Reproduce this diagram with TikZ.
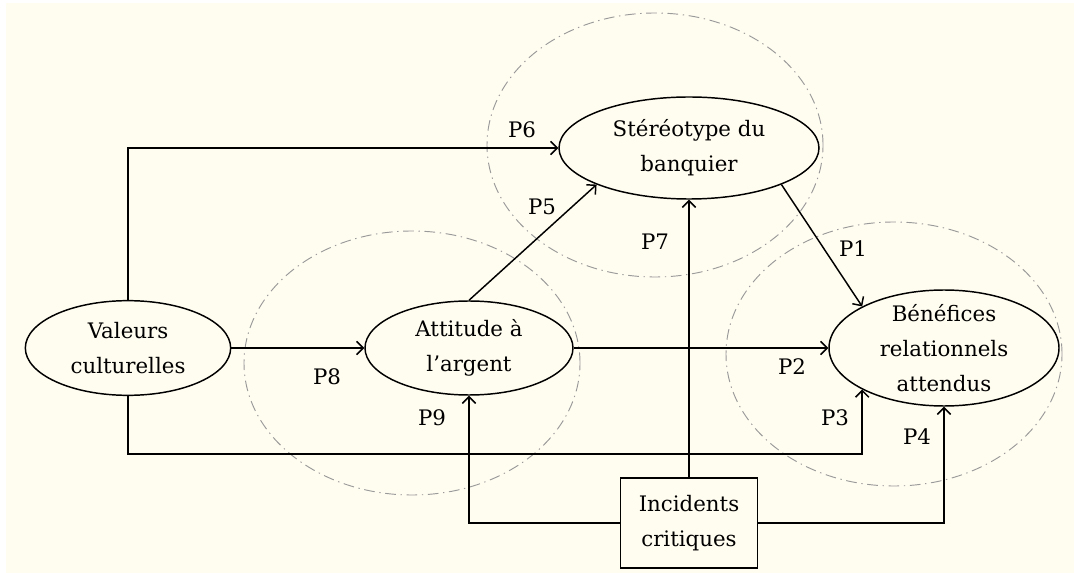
\documentclass[tikz,border=0pt]{standalone}
\usepackage{fontspec}
\setmainfont{DejaVu Serif}
\usepackage{tikz}
\usetikzlibrary{arrows.meta, positioning, shapes.geometric}
\definecolor{paper}{RGB}{255,253,240}

\begin{document}
\begin{tikzpicture}[
        x=0.75pt, y=-0.75pt,
        font=\fontsize{16}{26}\selectfont,
        concept/.style={ellipse, draw=black, line width=1.1pt, align=center, inner sep=0pt},
        event/.style={rectangle, draw=black, line width=1.1pt, align=center, minimum width=102.75pt, minimum height=67.5pt},
        zone/.style={draw=gray!80, line width=0.7pt, dash pattern=on 8pt off 3.5pt on 1pt off 3.5pt},
        lab/.style={inner sep=0pt},
        arrow/.style={-{Straight Barb[length=5pt, width=10pt]}, line width=1.1pt}
    ]
        \fill[white] (0,0) rectangle (1074,573);
        \fill[paper] (6,3) rectangle (1074,573);
        \useasboundingbox (0,0) rectangle (1074,573);

        % zones
        \draw[zone] (655,145) ellipse [x radius=126pt, y radius=99pt];
        \draw[zone] (412,363) ellipse [x radius=126pt, y radius=99pt];
        \draw[zone] (894,354) ellipse [x radius=126pt, y radius=99pt];

        \node[concept, minimum width=154pt, minimum height=71pt] (valeurs) at (128,348) {Valeurs\\culturelles};
        \node[concept, minimum width=156pt, minimum height=70.5pt] (attitude) at (469,348) {Attitude à\\l’argent};
        \node[concept, minimum width=195pt, minimum height=76.5pt] (stereo) at (689,148) {Stéréotype du\\banquier};
        \node[concept, minimum width=172.5pt, minimum height=87pt, inner ysep=-2pt] (benef) at (944,348) {Bénéfices\\relationnels\\attendus};
        \node[event] (incid) at (689,523) {Incidents\\critiques};

        \draw[arrow] (valeurs.north) |- (stereo.west);
        \draw[arrow] (valeurs.east) -- (attitude.west);
        \draw[arrow] (attitude.north) -- (stereo.south west);
        \draw[arrow] (stereo.south east) -- (benef.north west);
        \draw[arrow] (attitude.east) -- (benef.west);
        \draw[arrow] (valeurs.south) -- ++(0,58) -| (benef.south west);
        \draw[arrow] (incid.west) -| (attitude.south);
        \draw[arrow] (incid.north) -- (stereo.south);
        \draw[arrow] (incid.east) -| (benef.south);

        % labels
        \node[lab] (p1) at (853,249) {P1};
        \node[lab] (p2) at (792,367) {P2};
        \node[lab] (p3) at (835,418) {P3};
        \node[lab] (p4) at (917,437) {P4};
        \node[lab] (p5) at (542,207) {P5};
        \node[lab] (p6) at (522,130) {P6};
        \node[lab] (p7) at (655,242) {P7};
        \node[lab] (p8) at (327,377) {P8};
        \node[lab] (p9) at (432,418) {P9};
    \end{tikzpicture}
\end{document}
